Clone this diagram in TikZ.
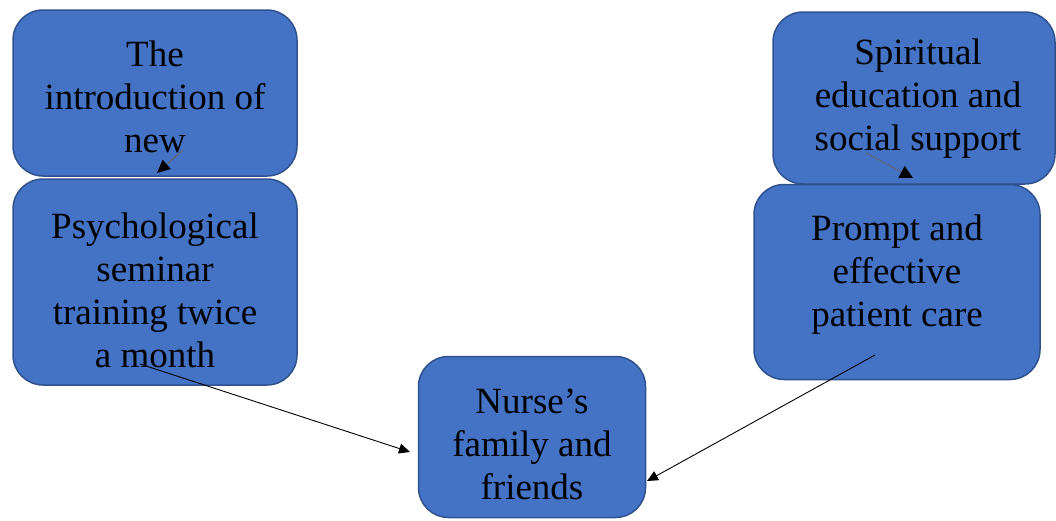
\documentclass[tikz,border=0pt]{standalone}
\usepackage{fontspec}
\setmainfont{Liberation Serif}
\usetikzlibrary{arrows.meta}
\definecolor{boxfill}{HTML}{4472C4}
\definecolor{boxline}{HTML}{2F528F}
\tikzset{
  box/.style={draw=boxline, line width=1.5pt, fill=boxfill, rounded corners=30pt, inner sep=0pt},
  lbl/.style={align=center, font=\fontsize{37}{43}\selectfont, inner sep=0pt},
  arr/.style={-{Triangle[length=11pt,width=10pt]}, line width=0.9pt, black},
  sarr/.style={-{Triangle[length=13pt,width=12pt,black]}, line width=1pt, black!60},
  darr/.style={line width=1.4pt, dash pattern=on 1.5pt off 1.2pt, black!60, -{Triangle[length=13pt,width=13pt,black]}},
}
\begin{document}
\begin{tikzpicture}[x=1pt,y=-1pt]
\useasboundingbox (0,0) rectangle (1056,520);
% boxes
\node[box, minimum width=284pt, minimum height=166pt] (b1) at (155,93) {};
\node[box, minimum width=284pt, minimum height=206pt] (b2) at (155,282) {};
\node[box, minimum width=282pt, minimum height=172pt] (b3) at (914,98) {};
\node[box, minimum width=286pt, minimum height=195pt] (b4) at (897,282) {};
\node[box, minimum width=227pt, minimum height=161pt] (b5) at (532,437) {};
% texts
\node[lbl] (t1) at (155,97) {The\\introduction of\\new};
\node[lbl] (t2) at (155,290) {Psychological\\seminar\\training twice\\a month};
\node[lbl] (t3) at (918,99) {Spiritual\\education and\\social support};
\node[lbl] (t4) at (897,275) {Prompt and\\effective\\patient care};
\node[lbl] (t5) at (532,444) {Nurse’s\\family and\\friends};
% connector end points
\coordinate (s1) at (183,150);
\coordinate (e1) at (157,173);
\coordinate (s3) at (866,153);
\coordinate (e3) at (913,178);
\coordinate (s2) at (140,364);
\coordinate (e2) at (410,452);
\coordinate (s4) at (875,355);
\coordinate (e4) at (647,481);
\draw[sarr] (s1) -- (e1);
\draw[darr] (s3) -- (e3);
\draw[arr] (s2) -- (e2);
\draw[arr] (s4) -- (e4);
\end{tikzpicture}
\end{document}
